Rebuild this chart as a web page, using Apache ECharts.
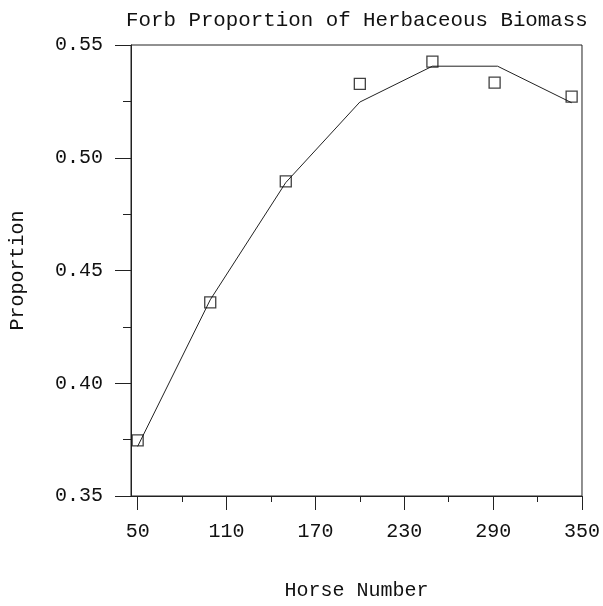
<!DOCTYPE html>
<html>
<head>
<meta charset="utf-8">
<script src="https://cdn.jsdelivr.net/npm/echarts@6/dist/echarts.min.js"></script>
<style>html,body{margin:0;padding:0;background:#fff;}#c{width:603px;height:606px;}</style>
</head>
<body>
<div id="c"></div>
<script>
// Data
var horseNumbers = [50, 99, 150, 200, 249, 291, 343];
var observed = [0.3747, 0.4359, 0.4895, 0.5328, 0.5426, 0.5333, 0.5271];
var fitX = [50, 99, 150, 200, 249, 293, 343];
var fitted = [0.372, 0.437, 0.489, 0.5247, 0.5406, 0.5406, 0.5244];
var xTickLabels = [50, 110, 170, 230, 290, 350];
var xMinorTicks = [80, 140, 200, 260, 320];
var titleText = 'Forb Proportion of Herbaceous Biomass';
var xName = 'Horse Number';
var yName = 'Proportion';

var FONT = '"Liberation Mono", "DejaVu Sans Mono", monospace';
var INK = '#222';

var scatterData = horseNumbers.map(function (x, i) { return [x, observed[i]]; });
var lineData = fitX.map(function (x, i) { return [x, fitted[i]]; });

var chart = echarts.init(document.getElementById('c'), null, {renderer: 'canvas'});
chart.setOption({
  backgroundColor: '#fff',
  animation: false,
  title: {
    text: titleText,
    left: 121,
    top: 5,
    textStyle: {fontFamily: FONT, fontSize: 20.8, fontWeight: 'normal', color: '#111'}
  },
  grid: {
    left: 130, right: 20, top: 45, bottom: 109,
    show: true, borderColor: INK, borderWidth: 1, backgroundColor: 'transparent'
  },
  xAxis: [{
    type: 'value',
    min: 45.5, max: 350,
    position: 'bottom',
    name: xName,
    nameLocation: 'middle',
    nameGap: 85,
    nameTextStyle: {fontFamily: FONT, fontSize: 20, color: '#111'},
    axisLine: {show: true, onZero: false, lineStyle: {color: INK, width: 1}},
    axisTick: {show: true, inside: false, length: 14, customValues: xTickLabels, lineStyle: {color: INK}},
    axisLabel: {show: true, margin: 26, customValues: xTickLabels, fontFamily: FONT, fontSize: 20, color: '#111',
      formatter: function (v) { return String(v); }},
    splitLine: {show: false}
  }, {
    type: 'value',
    min: 45.5, max: 350,
    position: 'bottom',
    offset: 0,
    axisLine: {show: false},
    axisTick: {show: true, inside: false, length: 6, customValues: xMinorTicks, lineStyle: {color: INK}},
    axisLabel: {show: false},
    splitLine: {show: false}
  }],
  yAxis: {
    type: 'value',
    min: 0.35, max: 0.55, interval: 0.05,
    name: yName,
    nameLocation: 'middle',
    nameGap: 103,
    nameTextStyle: {fontFamily: FONT, fontSize: 20, color: '#111'},
    axisLine: {show: true, onZero: false, lineStyle: {color: INK, width: 1}},
    axisTick: {show: true, inside: false, length: 16, lineStyle: {color: INK}},
    minorTick: {show: true, splitNumber: 2, length: 8, lineStyle: {color: INK}},
    axisLabel: {margin: 28, fontFamily: FONT, fontSize: 20, color: '#111',
      formatter: function (v) { return v.toFixed(2); }},
    splitLine: {show: false},
    minorSplitLine: {show: false}
  },
  series: [{
    type: 'line',
    xAxisIndex: 0,
    data: lineData,
    symbol: 'none',
    lineStyle: {color: INK, width: 1},
    z: 2
  }, {
    type: 'scatter',
    xAxisIndex: 0,
    data: scatterData,
    symbol: 'rect',
    symbolSize: 11,
    itemStyle: {color: 'rgba(255,255,255,0)', borderColor: '#111', borderWidth: 1.3},
    z: 3
  }]
});
</script>
</body>
</html>
